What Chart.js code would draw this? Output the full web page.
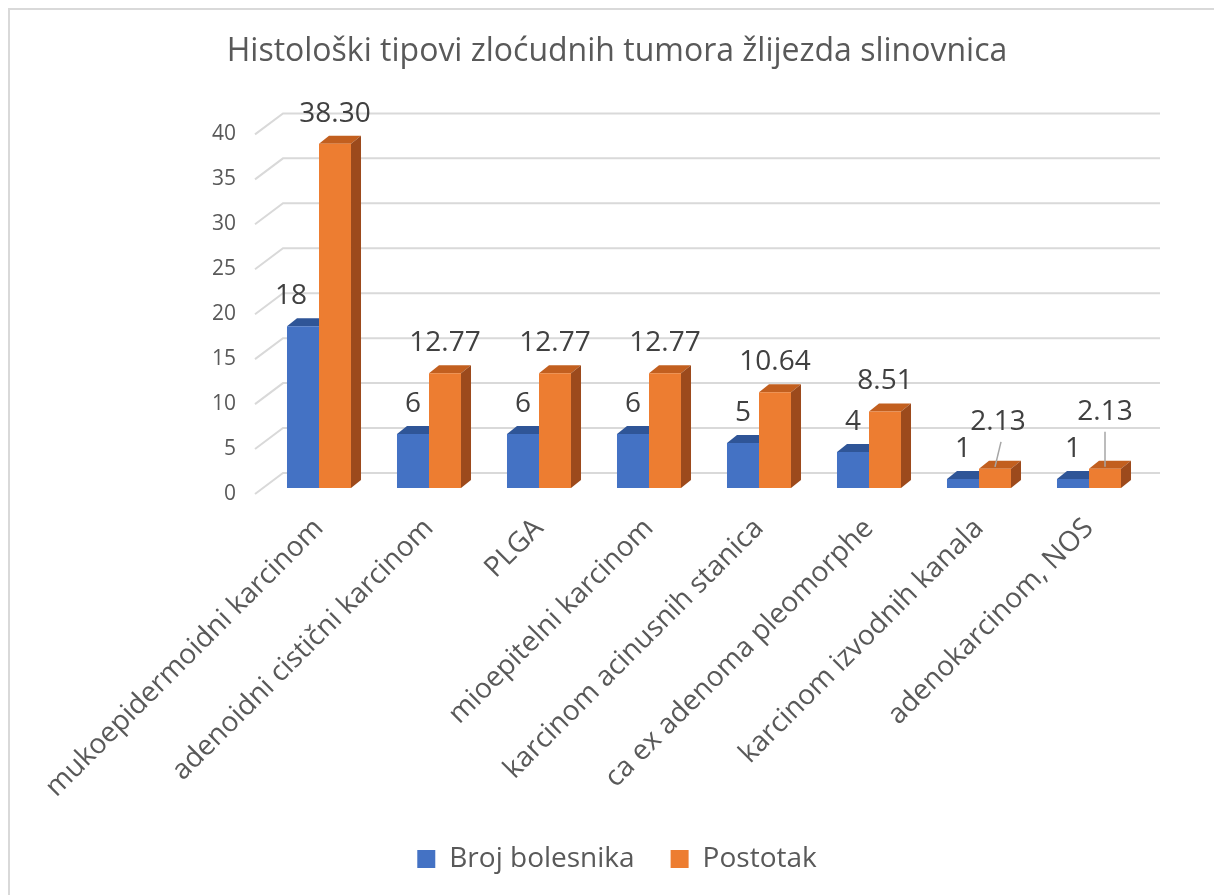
<!DOCTYPE html>
<html>
<head>
<meta charset="utf-8">
<title>Histološki tipovi zloćudnih tumora žlijezda slinovnica</title>
<style>
  html, body { margin: 0; padding: 0; background: #fff; }
  .frame {
    position: absolute; left: 8px; top: 8px; right: 0; bottom: 0;
    border-top: 2px solid #d9d9d9; border-left: 2px solid #d9d9d9;
  }
  .chart-container {
    position: absolute; left: 0; top: 0;
    width: 1214px; height: 895px;
  }
</style>
</head>
<body>
<div class="frame"></div>
<div class="chart-container">
<canvas id="mycanvas"></canvas>
</div>

<script src="https://cdn.jsdelivr.net/npm/chart.js@4.4.1/dist/chart.umd.min.js"></script>
<script>
var categories = [
  "mukoepidermoidni karcinom",
  "adenoidni cistični karcinom",
  "PLGA",
  "mioepitelni karcinom",
  "karcinom acinusnih stanica",
  "ca ex adenoma pleomorphe",
  "karcinom izvodnih kanala",
  "adenokarcinom, NOS"
];
var brojBolesnika = [18, 6, 6, 6, 5, 4, 1, 1];
var postotak = [38.30, 12.77, 12.77, 12.77, 10.64, 8.51, 2.13, 2.13];
var yTicks = [0, 5, 10, 15, 20, 25, 30, 35, 40];

// 3d look: depth of the bars
var BAR_DX = 10, BAR_DY = 8;
var faceColors = [
  { top: "#2f5597", side: "#2a4d8a" },
  { top: "#c25f1f", side: "#9c4a1c" }
];

// labels that were moved by hand in the original (dataset -> index -> offsets)
var labelMoves = {
  0: { 0: { dx: -12 } },
  1: { 6: { dy: 47, dx: 3, leader: true }, 7: { dy: 57, dx: 0, leader: true } }
};

var fake3d = {
  id: "fake3d",
  beforeDatasetsDraw: function(chart) {
    var ctx = chart.ctx, y = chart.scales.y, area = chart.chartArea;
    ctx.save();
    ctx.strokeStyle = "#d9d9d9";
    ctx.lineWidth = 2;
    yTicks.forEach(function(v) {
      var py = y.getPixelForValue(v);
      ctx.beginPath();
      ctx.moveTo(area.left - 9, py + 6);
      ctx.lineTo(area.left + 19, py - 15);
      ctx.lineTo(area.right + 16, py - 15);
      ctx.stroke();
    });

    chart.data.datasets.forEach(function(ds, di) {
      var meta = chart.getDatasetMeta(di);
      meta.data.forEach(function(bar) {
        var l = bar.x - bar.width / 2, r = bar.x + bar.width / 2;
        var t = bar.y, b = bar.base;
        ctx.fillStyle = faceColors[di].top;
        ctx.beginPath();
        ctx.moveTo(l, t);
        ctx.lineTo(l + BAR_DX, t - BAR_DY);
        ctx.lineTo(r + BAR_DX, t - BAR_DY);
        ctx.lineTo(r, t);
        ctx.closePath();
        ctx.fill();
        ctx.fillStyle = faceColors[di].side;
        ctx.beginPath();
        ctx.moveTo(r, t);
        ctx.lineTo(r + BAR_DX, t - BAR_DY);
        ctx.lineTo(r + BAR_DX, b - BAR_DY);
        ctx.lineTo(r, b);
        ctx.closePath();
        ctx.fill();
      });
    });
    ctx.restore();
  },
  afterDatasetsDraw: function(chart) {
    var ctx = chart.ctx;
    ctx.save();
    ctx.font = '28px "Open Sans"';
    ctx.fillStyle = "#404040";
    ctx.textAlign = "center";
    ctx.textBaseline = "middle";
    chart.data.datasets.forEach(function(ds, di) {
      var meta = chart.getDatasetMeta(di);
      meta.data.forEach(function(bar, i) {
        var mv = (labelMoves[di] && labelMoves[di][i]) || {};
        var lift = mv.dy || 30;
        var lx = bar.x + (mv.dx || 0), ly = bar.y - lift;
        var txt = di === 1 ? ds.data[i].toFixed(2) : String(ds.data[i]);
        ctx.fillText(txt, lx, ly);
        if (mv.leader) {
          ctx.strokeStyle = "#a6a6a6";
          ctx.lineWidth = 1.5;
          ctx.beginPath();
          ctx.moveTo(lx + (mv.dx || 0), ly + 20);
          ctx.lineTo(bar.x, bar.y - 2);
          ctx.stroke();
        }
      });
    });
    ctx.restore();
  }
};

var ctx = document.getElementById("mycanvas");
var chart = new Chart(ctx, {
  type: "bar",
  data: {
    labels: categories,
    datasets: [
      {
        label: "Broj bolesnika",
        data: brojBolesnika,
        backgroundColor: "#4472c4",
        categoryPercentage: 0.582,
        barPercentage: 1
      },
      {
        label: "Postotak",
        data: postotak,
        backgroundColor: "#ed7d31",
        categoryPercentage: 0.582,
        barPercentage: 1
      }
    ]
  },
  plugins: [fake3d],
  options: {
    responsive: true,
    maintainAspectRatio: false,
    animation: false,
    layout: { padding: { left: 20, right: 0, top: 0, bottom: 12 } },
    plugins: {
      title: {
        display: true,
        text: "Histološki tipovi zloćudnih tumora žlijezda slinovnica",
        color: "#595959",
        font: { family: "Open Sans", size: 32, weight: "normal" },
        padding: { top: 33, bottom: 57 }
      },
      legend: {
        position: "bottom",
        labels: {
          color: "#595959",
          font: { family: "Open Sans", size: 28 },
          boxWidth: 18,
          boxHeight: 18,
          padding: 36
        }
      },
      tooltip: { enabled: false }
    },
    scales: {
      x: {
        grid: { display: false, drawTicks: false },
        border: { display: false },
        ticks: {
          color: "#595959",
          font: { family: "Open Sans", size: 28 },
          maxRotation: 45,
          minRotation: 45,
          padding: 24,
          autoSkip: false
        },
        afterFit: function(scale) { scale.height = 321; }
      },
      y: {
        min: 0,
        max: 40,
        grid: { display: false, drawTicks: false },
        border: { display: false },
        ticks: {
          stepSize: 5,
          color: "#595959",
          font: { family: "Open Sans", size: 21 },
          padding: 28,
          labelOffset: 6
        },
        afterFit: function(scale) { scale.width = 244; }
      },
      // empty right-hand axis, only keeps space for the back wall
      yRight: {
        position: "right",
        display: true,
        grid: { display: false, drawTicks: false },
        border: { display: false },
        ticks: { display: false },
        afterFit: function(scale) { scale.width = 70; }
      }
    }
  }
});
</script>
</body>
</html>
